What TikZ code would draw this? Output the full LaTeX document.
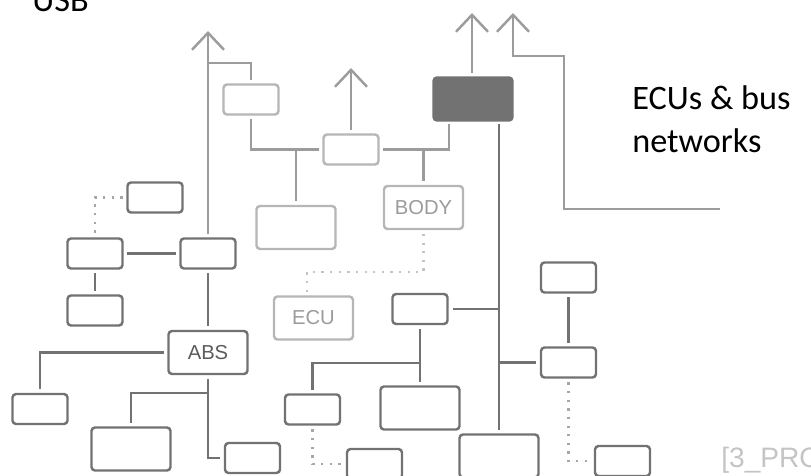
\documentclass[tikz,border=0pt]{standalone}
\usepackage{fontspec}
\setmainfont{Liberation Sans}
\newfontfamily\calibri{Carlito}
\usetikzlibrary{arrows.meta}
\definecolor{darkln}{HTML}{727272}
\definecolor{midln}{HTML}{9C9C9C}
\definecolor{lightbox}{HTML}{B6B6B6}
\definecolor{dotln}{HTML}{A6A6A6}
\definecolor{faint}{HTML}{C4C4C4}
\begin{document}
\begin{tikzpicture}[
        x=0.02cm, y=-0.02cm,
        box/.style={draw=darkln, rounded corners=2pt, line width=1.4pt, minimum width=1.1cm, minimum height=0.6cm, inner sep=0pt, outer sep=0.1cm},
        bigbox/.style={box, minimum width=1.58cm, minimum height=0.86cm},
        lightbox/.style={draw=lightbox, text=lightbox!85!black},
        label/.style={font=\fontsize{11.5}{13}\selectfont},
        wire/.style={draw=darkln, line width=1.4pt},
        softwire/.style={draw=midln, line width=1.4pt},
        dots/.style={draw=dotln, line width=1.3pt, dash pattern=on 1.3pt off 3.6pt},
        faintdots/.style={dots, draw=faint},
        upward/.style={softwire, -{Straight Barb[length=0.34cm, width=0.64cm, line width=1.4pt]}},
    ]
    \clip (0,0) rectangle (811,476);
    \useasboundingbox (0,0) rectangle (811,476);

    % upper cluster
    \node[box, lightbox](top1) at (251,99.5){};
    \node[box, lightbox](mid) at (351,149.5){};
    \node[bigbox, lightbox](big1) at (296,227.5){};
    \node[bigbox, lightbox, label](body) at (423.5,207.5){BODY};
    \node[bigbox, lightbox, label](ecu) at (313.5,318){ECU};
    \node[bigbox, fill=darkln](gw) at (473,99){};

    % left cluster
    \node[box](l1) at (155,197.5){};
    \node[box](l2) at (95,253.5){};
    \node[box](l3) at (208,253.5){};
    \node[box](l4) at (95,310.5){};
    \node[bigbox, label, text=darkln!80!black](abs) at (208,352.5){ABS};
    \node[box](l5) at (40,409){};
    \node[bigbox](l6) at (131,449){};
    \node[box](l7) at (252.5,458){};

    % middle and right cluster
    \node[box](m1) at (420,309){};
    \node[box](m2) at (312.5,409.5){};
    \node[bigbox](m3) at (420,408){};
    \node[box](m4) at (374.5,464){};
    \node[bigbox](bot) at (499,456){};
    \node[box](r1) at (568.5,277.5){};
    \node[box](r2) at (568.5,362.5){};
    \node[box](r3) at (622.5,461){};

    % texts
    \node[anchor=base west, inner sep=0pt, font=\calibri\fontsize{19.5}{24}\selectfont](usb) at (32,12){USB};
    \node[anchor=base west, inner sep=0pt, font=\calibri\fontsize{19.5}{24}\selectfont](ecus) at (632,110){ECUs \& bus};
    \node[anchor=base west, inner sep=0pt, font=\calibri\fontsize{19.5}{24}\selectfont](nets) at (632,153){networks};
    \node[anchor=base west, inner sep=0pt, text=faint, font=\fontsize{16}{18}\selectfont](ref) at (721,467){[3\_PRO};

    % free ends
    \coordinate (usbtip) at (208,31);
    \coordinate (midtip) at (351,68);
    \coordinate (gwtip) at (472,13);
    \coordinate (bustip) at (513,13);
    \coordinate (busbend) at (564,56);
    \coordinate (busend) at (720,209);
    \coordinate (gwfoot) at (449,124);
    \coordinate (trunk) at (499,124);
    \coordinate (dotbend) at (307,272);

    % arrows out
    \draw[upward] (l3.north) -- (usbtip);
    \draw[upward] (mid.north) -- (midtip);
    \draw[upward] (gw.north -| gwtip) -- (gwtip);
    \draw[upward] (busend) -| (busbend) -| (bustip);

    % upper wiring
    \draw[softwire] (l3.north |- 0,63) -| (top1.north);
    \draw[softwire] (top1.south) |- (mid.west);
    \draw[softwire] (big1.north |- mid.west) -- (big1.north);
    \draw[softwire] (mid.east) -| (gwfoot);
    \draw[softwire] (body.north |- mid.east) -- (body.north);
    \draw[faintdots] (body.south) |- (dotbend) -- (dotbend |- ecu.north);

    % left wiring
    \draw[wire] (l3.south) -- (abs.north);
    \draw[wire] (l3.west) -- (l2.east);
    \draw[wire] (l2.south) -- (l4.north);
    \draw[dots] (l1.west) -| (l2.north);
    \draw[wire] (abs.west) -| (l5.north);
    \draw[wire] (abs.south) |- (l7.west);
    \draw[wire] (abs.south |- 0,393) -| (l6.north);

    % trunk wiring
    \draw[wire] (trunk) -- (bot.north);
    \draw[wire] (m1.east) -- (m1.east -| trunk);
    \draw[wire] (r2.west) -- (r2.west -| trunk);
    \draw[wire] (r1.south) -- (r2.north);
    \draw[wire] (m1.south) -- (m3.north);
    \draw[wire] (m1.south |- 0,363) -| (m2.north);
    \draw[dots] (m2.south) |- (m4.west);
    \draw[dots] (r2.south) |- (r3.west);
\end{tikzpicture}
\end{document}
